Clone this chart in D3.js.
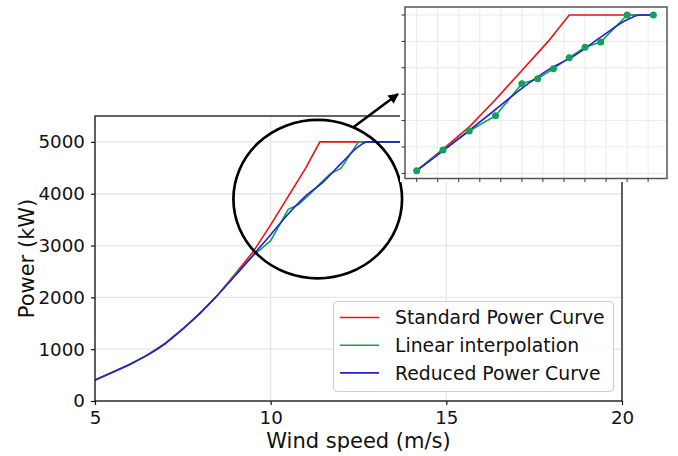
<!DOCTYPE html>
<html><head><meta charset="utf-8">
<script src="https://cdn.jsdelivr.net/npm/d3@7"></script>
<style>body{margin:0;background:#fff}svg{display:block}text{font-family:"DejaVu Sans",sans-serif;fill:#111}</style>
</head><body><svg id="c" width="678" height="456"></svg>
<script>
// ---- data ----
const windStd  = [5,5.5,6,6.5,7,7.5,8,8.5,9,9.5,10,10.5,11,11.4,13,20];
const powerStd = [405,555,710,890,1110,1390,1700,2050,2460,2880,3400,3950,4500,5000,5000,5000];
const windLin  = [5,5.5,6,6.5,7,7.5,8,8.5,9,9.5,10,10.5,10.8,11.1,11.4,11.7,12,12.5,13,20];
const powerLin = [405,555,710,890,1110,1390,1700,2050,2443,2803,3093,3699,3794,3983,4191,4388,4489,5000,5000,5000];
const windRed  = [5,5.5,6,6.5,7,7.5,8,8.5,9,9.5,10,10.5,11,11.5,12,12.5,12.75,13,20];
const powerRed = [405,555,710,890,1110,1390,1700,2050,2425,2815,3210,3610,3960,4230,4580,4910,5000,5000,5000];
const seriesNames = ["Standard Power Curve","Linear interpolation","Reduced Power Curve"];
const seriesColors = ["#f01010","#14a05a","#2222d0"];
const xTicks = [5,10,15,20];
const yTicks = [0,1000,2000,3000,4000,5000];
const insetXTicks = [8.5,8.9,9.3,9.7,10.1,10.5,10.9,11.3,11.7,12.1,12.5,12.9];
const insetYTicks = [2000,2500,3000,3500,4000,4500,5000];
const insetRange = [8.5, 13];
const zoomCenter = [11.34, 3896], zoomRadius = [2.4, 1529];

const svg = d3.select("#c");
const series = [
  windStd.map((w,i)=>({x:w,y:powerStd[i]})),
  windLin.map((w,i)=>({x:w,y:powerLin[i]})),
  windRed.map((w,i)=>({x:w,y:powerRed[i]}))
];
const curves = [d3.curveLinear, d3.curveLinear, d3.curveMonotoneX];

// ---- main plot ----
const L=95,R=622,T=116,B=401;
const x = d3.scaleLinear().domain([5,20]).range([L,R]);
const y = d3.scaleLinear().domain([0,5500]).range([B,T]);

svg.append("defs").append("clipPath").attr("id","mclip").append("rect")
  .attr("x",L).attr("y",T).attr("width",R-L).attr("height",B-T);

const g = svg.append("g");
g.selectAll(".vg").data(xTicks).join("line").attr("x1",d=>x(d)).attr("x2",d=>x(d))
  .attr("y1",T).attr("y2",B).attr("stroke","#e6e6e6").attr("stroke-width",1.3);
g.selectAll(".hg").data(yTicks).join("line").attr("x1",L).attr("x2",R)
  .attr("y1",d=>y(d)).attr("y2",d=>y(d)).attr("stroke","#e6e6e6").attr("stroke-width",1.3);

series.forEach((s,i)=>{
  g.append("path").datum(s).attr("clip-path","url(#mclip)")
   .attr("fill","none").attr("stroke",seriesColors[i]).attr("stroke-width",1.6)
   .attr("d",d3.line().x(d=>x(d.x)).y(d=>y(d.y)).curve(curves[i]));
});

const xa = g.append("g").attr("transform",`translate(0,${B})`)
  .call(d3.axisBottom(x).tickValues(xTicks).tickFormat(d3.format("d")).tickSize(4).tickPadding(6).tickSizeOuter(0));
const ya = g.append("g").attr("transform",`translate(${L},0)`)
  .call(d3.axisLeft(y).tickValues(yTicks).tickFormat(d3.format("d")).tickSize(4).tickPadding(6).tickSizeOuter(0));
[xa,ya].forEach(a=>{a.select(".domain").remove();
  a.selectAll("text").attr("font-size",18.3).style("font-family","DejaVu Sans").attr("fill","#111");
  a.selectAll("line").attr("stroke","#111").attr("stroke-width",1.2);});

g.append("rect").attr("x",L).attr("y",T).attr("width",R-L).attr("height",B-T)
  .attr("fill","none").attr("stroke","#111").attr("stroke-width",1.3);

g.append("text").attr("x",(L+R)/2).attr("y",447.5).attr("text-anchor","middle")
  .attr("font-size",21).text("Wind speed (m/s)");
g.append("text").attr("transform",`translate(34,${(T+B)/2}) rotate(-90)`).attr("text-anchor","middle")
  .attr("font-size",21).text("Power (kW)");

// legend
const lg = svg.append("g");
lg.append("rect").attr("x",333.5).attr("y",301.5).attr("width",280).attr("height",90).attr("rx",4)
  .attr("fill","#fff").attr("fill-opacity",0.85).attr("stroke","#d0d0d0").attr("stroke-width",1.2);
seriesNames.forEach((n,i)=>{
  const yy = 317.5 + i*27.7;
  lg.append("line").attr("x1",340).attr("x2",379).attr("y1",yy).attr("y2",yy)
    .attr("stroke",seriesColors[i]).attr("stroke-width",1.6);
  lg.append("text").attr("x",395).attr("y",yy).attr("dy","0.36em").attr("font-size",18.8).text(n);
});

// zoom ellipse
const cx = x(zoomCenter[0]), cy = y(zoomCenter[1]);
const rx = x(zoomCenter[0]+zoomRadius[0])-cx, ry = cy - y(zoomCenter[1]+zoomRadius[1]);
svg.append("ellipse").attr("cx",cx).attr("cy",cy).attr("rx",rx).attr("ry",ry)
  .attr("fill","none").attr("stroke","#000").attr("stroke-width",2.7);

// ---- inset ----
const IL=405, IR=667, IT=7, IB=178.5;
svg.append("rect").attr("x",400).attr("y",0).attr("width",278).attr("height",182).attr("fill","#fff");
const xi = d3.scaleLinear().domain([8.278,13.259]).range([IL,IR]);
const yi = d3.scaleLinear().domain([1903,5151.5]).range([IB,IT]);
const gi = svg.append("g");
svg.select("defs").append("clipPath").attr("id","iclip").append("rect")
  .attr("x",IL).attr("y",IT).attr("width",IR-IL).attr("height",IB-IT);
gi.selectAll(".ivg").data(insetXTicks).join("line").attr("x1",d=>xi(d)).attr("x2",d=>xi(d))
  .attr("y1",IT).attr("y2",IB).attr("stroke","#ebebeb").attr("stroke-width",1);
gi.selectAll(".ihg").data(insetYTicks).join("line").attr("x1",IL).attr("x2",IR)
  .attr("y1",d=>yi(d)).attr("y2",d=>yi(d)).attr("stroke","#ebebeb").attr("stroke-width",1);
series.forEach((s,i)=>{
  const sub = s.filter(d=>d.x>=insetRange[0] && d.x<=insetRange[1]);
  gi.append("path").datum(sub).attr("clip-path","url(#iclip)")
   .attr("fill","none").attr("stroke",seriesColors[i]).attr("stroke-width",1.6)
   .attr("d",d3.line().x(d=>xi(d.x)).y(d=>yi(d.y)).curve(curves[i]));
});
gi.selectAll(".pt").data(series[1].filter(d=>d.x>=insetRange[0] && d.x<=insetRange[1]))
  .join("circle").attr("cx",d=>xi(d.x)).attr("cy",d=>yi(d.y)).attr("r",3.5).attr("fill","#14a05a");
gi.append("rect").attr("x",IL).attr("y",IT).attr("width",IR-IL).attr("height",IB-IT)
  .attr("fill","none").attr("stroke","#555").attr("stroke-width",1.5);
gi.selectAll(".ixt").data(insetXTicks).join("line").attr("x1",d=>xi(d)).attr("x2",d=>xi(d))
  .attr("y1",IB).attr("y2",IB+3.5).attr("stroke","#333").attr("stroke-width",1);
gi.selectAll(".iyt").data(insetYTicks).join("line").attr("x1",IL-3.5).attr("x2",IL)
  .attr("y1",d=>yi(d)).attr("y2",d=>yi(d)).attr("stroke","#333").attr("stroke-width",1);

// arrow
svg.select("defs").append("marker").attr("id","ah").attr("viewBox","0 0 10 10").attr("refX",9).attr("refY",5)
  .attr("markerWidth",4).attr("markerHeight",4).attr("orient","auto-start-reverse").attr("markerUnits","strokeWidth")
  .append("path").attr("d","M0,0 L10,5 L0,10 z").attr("fill","#000");
svg.append("line").attr("x1",353).attr("y1",127.5).attr("x2",398).attr("y2",94)
  .attr("stroke","#000").attr("stroke-width",2.6).attr("marker-end","url(#ah)");
</script></body></html>
